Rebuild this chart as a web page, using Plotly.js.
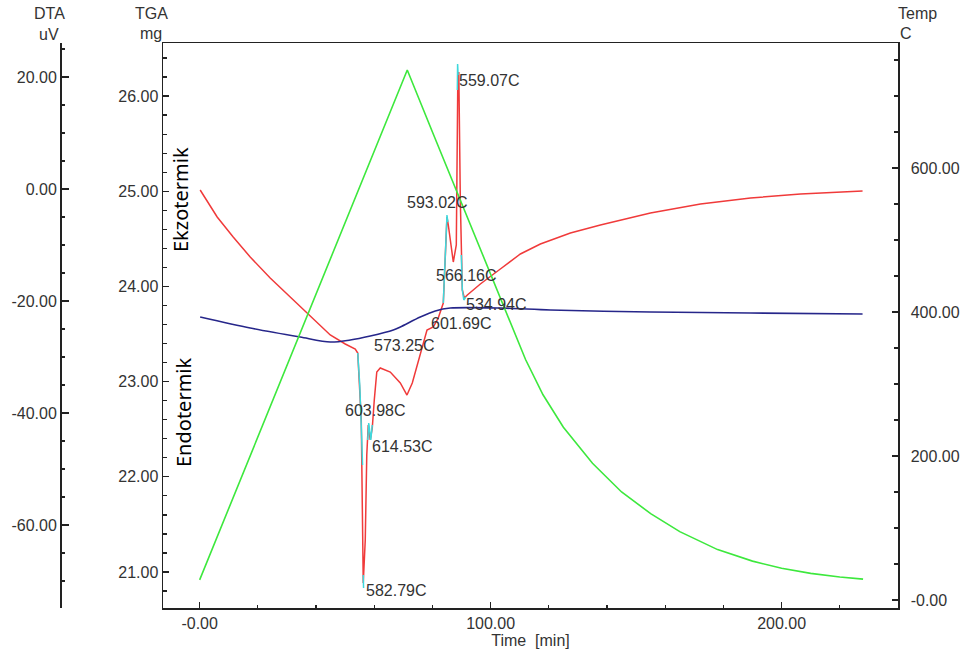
<!DOCTYPE html>
<html>
<head>
<meta charset="utf-8">
<script src="https://cdn.plot.ly/plotly-3.0.1.min.js"></script>
<style>html,body{margin:0;padding:0;background:#fff;}#chart{width:974px;height:657px;}</style>
</head>
<body>
<div id="chart"></div>
<script>
// ---- DTA signal (uV) ----
const dtaTime = [0.17, 6.02, 11.52, 17.37, 24.24, 31.12, 38.0, 44.88, 50.03, 53.47, 54.33,
  55.54, 56.22, 56.91, 57.43, 57.94, 58.63, 59.32, 60.01, 60.87, 62.07, 65.51, 68.95, 71.25,
  73.07, 75.82, 78.13, 80.3, 82.0, 83.73, 85.0, 85.45, 86.14, 87.17, 88.2, 88.72, 89.06,
  89.58, 90.27, 90.96, 91.99, 96.46, 103.34, 110.22, 117.09, 127.41, 137.72, 154.92,
  172.11, 189.31, 206.5, 227.82];
const dtaValues = [-0.18, -5.0, -8.57, -12.14, -15.89, -19.29, -22.68, -26.07, -27.68, -28.57, -29.29,
  -41.25, -70.36, -62.68, -47.5, -42.14, -44.82, -42.68, -37.68, -32.68, -31.96, -32.68, -34.64, -36.79,
  -34.64, -29.64, -25.18, -24.64, -23.04, -20.36, -5.0, -6.43, -9.11, -13.04, -10.0, 19.46, 20.89,
  -1.96, -18.04, -19.46, -18.93, -16.96, -14.29, -11.61, -9.82, -7.86, -6.43, -4.29,
  -2.68, -1.61, -0.89, -0.36];

// ---- highlighted DTA segments (cyan) ----
const peakSegTime = [54.33, 55.02, 55.71, 55.98, null, 56.22, 56.33, null,
  57.77, 58.11, 58.80, 59.32, null, 83.73, 84.42, 85.0, 85.28, null,
  88.55, 88.65, 88.82, null, 89.92, 90.27, 90.78, 91.47];
const peakSegValues = [-29.29, -35.0, -44.82, -49.29, null, -68.93, -71.25, null,
  -44.82, -41.79, -44.82, -42.14, null, -20.36, -10.89, -4.64, -5.89, null,
  17.68, 22.32, 20.36, null, -11.79, -18.04, -19.82, -19.29];

// ---- TGA signal (mg) ----
const tgaTime = [0.17, 17.37, 34.56, 44.88, 51.75, 58.63, 66.54, 68.95, 75.82, 80.98, 86.14,
  103.34, 120.53, 154.92, 189.31, 227.82];
const tgaValues = [23.679, 23.563, 23.468, 23.416, 23.437, 23.479, 23.542, 23.574, 23.679, 23.742, 23.773,
  23.773, 23.752, 23.731, 23.721, 23.710];

// ---- Temperature (C) ----
const tempTime = [0, 71.35, 80, 90, 100, 107, 112, 118, 125, 135, 145, 155, 165, 178, 190, 200, 210, 220, 228];
const tempValues = [28, 736, 650, 551, 452, 382, 334, 285, 240, 190, 150, 120, 95, 70, 54, 44, 37, 32, 29];

// ---- peak labels ----
const peakLabels = ["559.07C", "593.02C", "566.16C", "534.94C", "601.69C", "573.25C", "603.98C", "614.53C", "582.79C"];
const peakLabelTime = [88.65, 71.01, 80.98, 91.30, 79.27, 59.56, 49.69, 58.87, 56.67];
const peakLabelDTA = [19.34, -2.38, -15.48, -20.59, -23.98, -27.86, -39.64, -46.02, -71.61];

// ---- tick labels ----
const xTickVals = [0, 100, 200];
const xTickText = ["-0.00", "100.00", "200.00"];
const dtaTickVals = [-60, -40, -20, 0, 20];
const dtaTickText = ["-60.00", "-40.00", "-20.00", "0.00", "20.00"];
const tgaTickVals = [21, 22, 23, 24, 25, 26];
const tgaTickText = ["21.00", "22.00", "23.00", "24.00", "25.00", "26.00"];
const tempTickVals = [0, 200, 400, 600];
const tempTickText = ["-0.00", "200.00", "400.00", "600.00"];

const FONT = "Liberation Sans, Arial, sans-serif";
const TXT = "#333333";
const AX = "#222222";
const tickFont = {family: FONT, size: 16, color: TXT};

const traces = [
  {x: tempTime, y: tempValues, yaxis: "y3", mode: "lines", line: {color: "#3de83d", width: 1.6}, hoverinfo: "skip"},
  {x: tgaTime, y: tgaValues, yaxis: "y2", mode: "lines", line: {color: "#26268a", width: 1.6, shape: "spline", smoothing: 0.8}, hoverinfo: "skip"},
  {x: dtaTime, y: dtaValues, yaxis: "y", mode: "lines", line: {color: "#f03a3a", width: 1.5}, hoverinfo: "skip"},
  {x: peakSegTime, y: peakSegValues, yaxis: "y", mode: "lines", connectgaps: false, line: {color: "#3ed8dc", width: 1.5}, hoverinfo: "skip"}
];

const annotations = [];
function addText(text, x, y, opts) {
  annotations.push(Object.assign({text: text, x: x, y: y, xref: "paper", yref: "paper",
    showarrow: false, font: {family: FONT, size: 16, color: TXT}, xanchor: "center", yanchor: "middle"}, opts || {}));
}
addText("DTA", 49.5 / 974, 1 - 13 / 657);
addText("uV", 49 / 974, 1 - 34 / 657);
addText("TGA", 151.5 / 974, 1 - 13 / 657);
addText("mg", 151 / 974, 1 - 33 / 657);
addText("Temp", 917 / 974, 1 - 13 / 657);
addText("C", 906 / 974, 1 - 33 / 657);
addText("Ekzotermik", 180 / 974, 1 - 200 / 657, {textangle: -90, font: {family: "Noto Sans, sans-serif", size: 20, color: "#000"}});
addText("Endotermik", 183 / 974, 1 - 412 / 657, {textangle: -90, font: {family: "Noto Sans, sans-serif", size: 20, color: "#000"}});

peakLabels.forEach(function (lab, i) {
  annotations.push({text: lab, x: peakLabelTime[i], y: peakLabelDTA[i], xref: "x", yref: "y",
    showarrow: false, xanchor: "left", yanchor: "middle", borderpad: 0,
    font: {family: FONT, size: 16, color: TXT}});
});

const layout = {
  width: 974, height: 657,
  margin: {l: 0, r: 0, t: 0, b: 0},
  paper_bgcolor: "#ffffff", plot_bgcolor: "#ffffff",
  showlegend: false,
  xaxis: {
    domain: [163 / 974, 898 / 974], range: [-12.6, 240],
    showline: true, linecolor: AX, linewidth: 1.5, mirror: true,
    showgrid: false, zeroline: false,
    tickmode: "array", tickvals: xTickVals, ticktext: xTickText,
    ticks: "inside", ticklen: 6, tickcolor: AX, tickwidth: 1.2,
    minor: {tick0: 0, dtick: 20, ticks: "inside", ticklen: 3, tickcolor: AX, tickwidth: 1.2, showgrid: false},
    tickfont: tickFont,
    title: {text: "Time  [min]", font: {family: FONT, size: 16, color: TXT}, standoff: 2}
  },
  yaxis: {
    domain: [49 / 657, 614 / 657], range: [-74.82, 26.07],
    anchor: "free", position: 60 / 974, side: "left",
    showline: true, linecolor: AX, linewidth: 1.5,
    showgrid: false, zeroline: false,
    tickmode: "array", tickvals: dtaTickVals, ticktext: dtaTickText,
    ticks: "inside", ticklen: 7, tickcolor: AX, tickwidth: 1.2,
    minor: {tick0: 0, dtick: 5, ticks: "inside", ticklen: 3.5, tickcolor: AX, tickwidth: 1.2, showgrid: false},
    tickfont: tickFont
  },
  yaxis2: {
    overlaying: "y", anchor: "x", side: "left", range: [20.622, 26.557],
    showline: true, linecolor: AX, linewidth: 1.5,
    showgrid: false, zeroline: false,
    tickmode: "array", tickvals: tgaTickVals, ticktext: tgaTickText,
    ticks: "inside", ticklen: 6, tickcolor: AX, tickwidth: 1.2,
    minor: {tick0: 0, dtick: 0.2, ticks: "inside", ticklen: 3.5, tickcolor: AX, tickwidth: 1.2, showgrid: false},
    tickfont: tickFont
  },
  yaxis3: {
    overlaying: "y", anchor: "x", side: "right", range: [-11.1, 773.6],
    showline: true, linecolor: AX, linewidth: 1.5,
    showgrid: false, zeroline: false,
    tickmode: "array", tickvals: tempTickVals, ticktext: tempTickText,
    ticks: "inside", ticklen: 6, tickcolor: AX, tickwidth: 1.2,
    minor: {tick0: 0, dtick: 50, ticks: "inside", ticklen: 4, tickcolor: AX, tickwidth: 1.2, showgrid: false},
    tickfont: tickFont, ticklabelstandoff: 8
  },
  annotations: annotations
};

Plotly.newPlot("chart", traces, layout, {displayModeBar: false, staticPlot: true});
</script>
</body>
</html>
